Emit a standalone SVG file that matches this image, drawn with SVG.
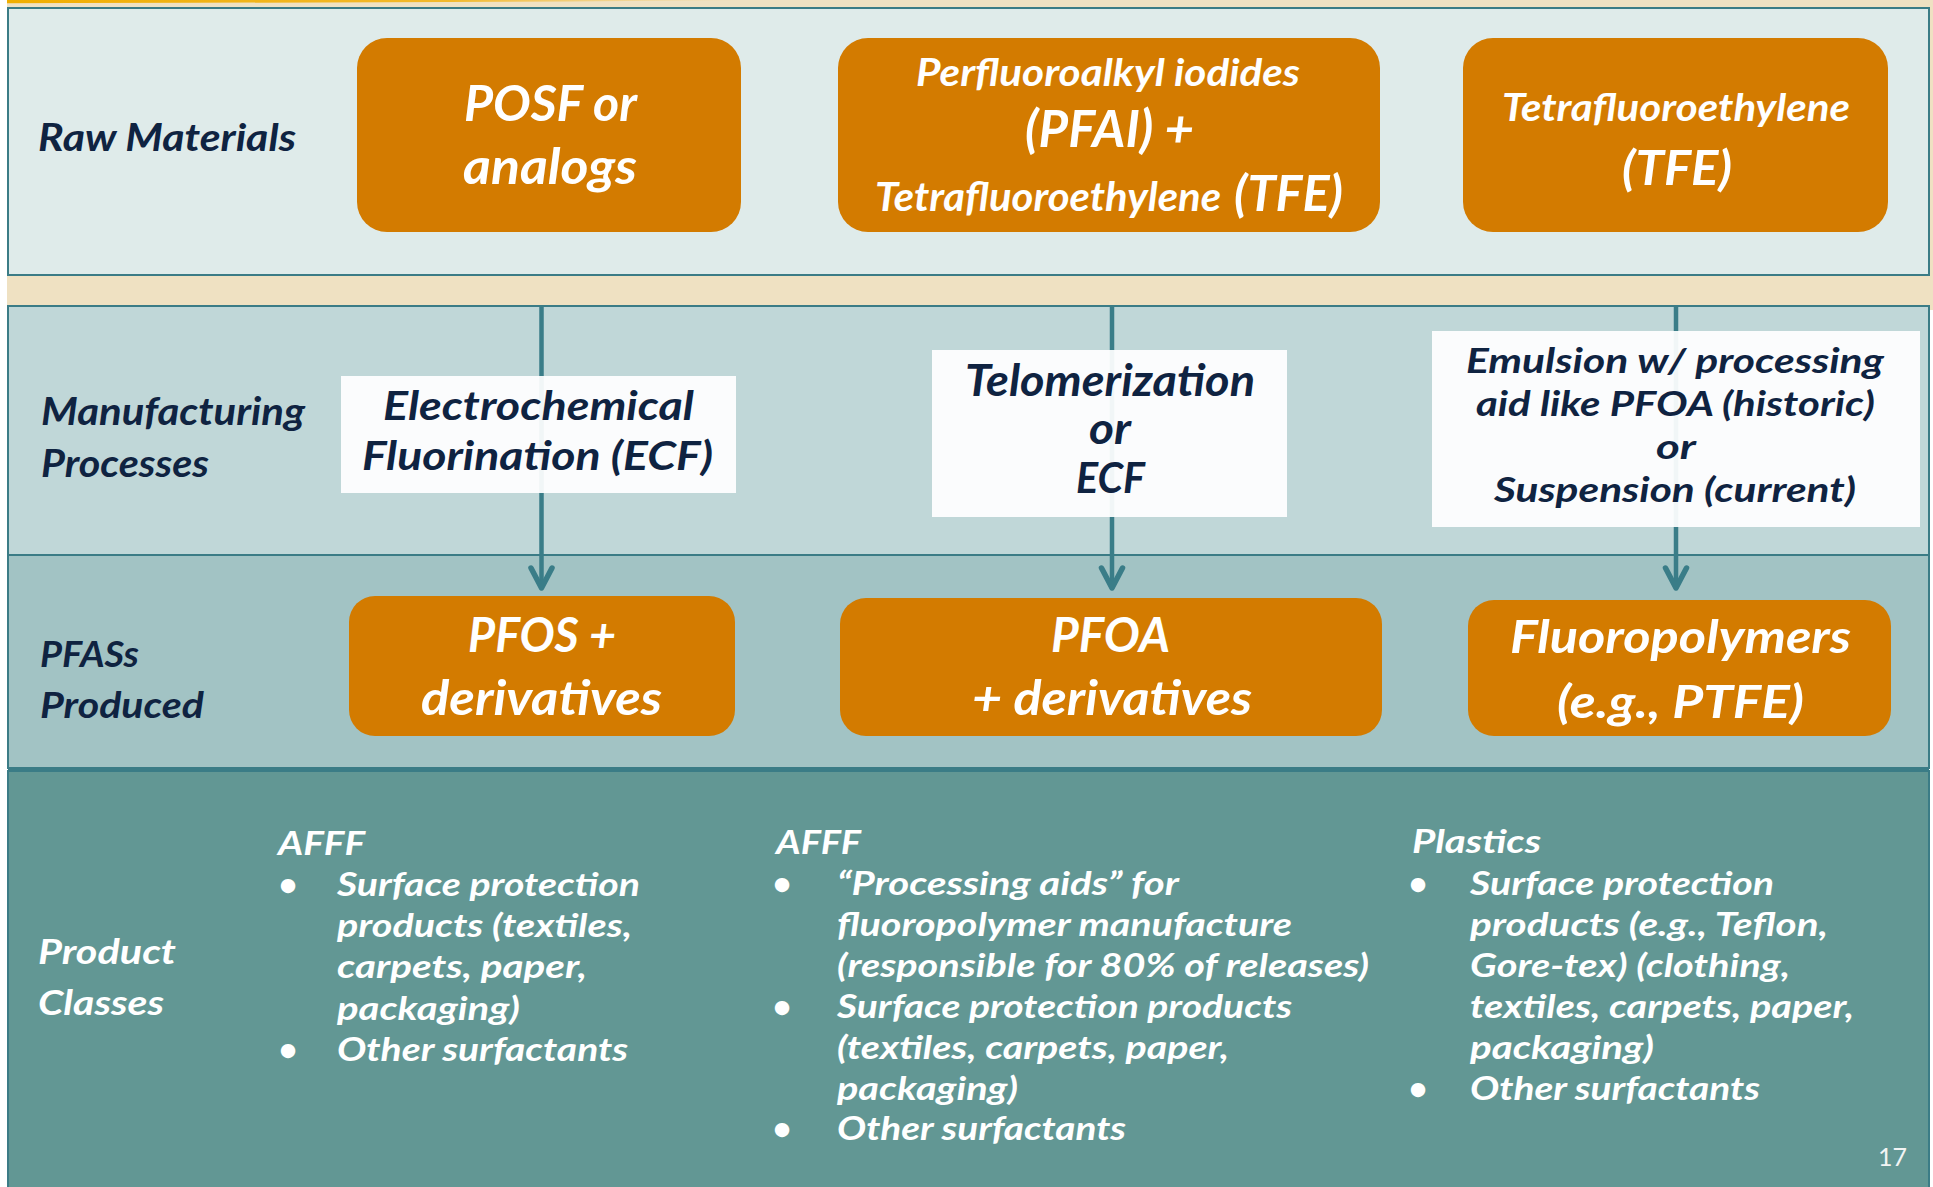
<svg xmlns="http://www.w3.org/2000/svg" width="1933" height="1187" viewBox="0 0 1933 1187">
  <defs>
    <style>
      text { font-family: Lato, "Open Sans", "Liberation Sans", sans-serif; font-style: italic; font-weight: bold; }
      .navy { fill: #0F2341; }
      .white { fill: #FFFFFF; }
      .band { stroke: #3B7C86; stroke-width: 2; }
      .orange { fill: #D37B00; }
      .proc { fill: #FFFFFF; fill-opacity: 0.93; }
      .conn { stroke: #3A7D88; stroke-width: 4.5; fill: none; }
      .pagenum { font-style: normal; font-weight: normal; fill: #F2F4F4; }
    </style>
    <linearGradient id="goldline" x1="0" y1="0" x2="1" y2="0">
      <stop offset="0" stop-color="#F0AE00"/>
      <stop offset="0.6" stop-color="#F2B41A" stop-opacity="0.9"/>
      <stop offset="1" stop-color="#F5C860" stop-opacity="0"/>
    </linearGradient>
    <marker id="chev" markerUnits="userSpaceOnUse" markerWidth="30" markerHeight="30" refX="0" refY="0" orient="auto" overflow="visible">
      <path d="M-20,-10.5 L0,0 L-20,10.5" fill="none" stroke="#3A7D88" stroke-width="5.5" stroke-linecap="round" stroke-linejoin="round"/>
    </marker>
  </defs>

  <!-- page background -->
  <rect x="0" y="0" width="1933" height="1187" fill="#FFFFFF"/>
  <rect x="7" y="0" width="1926" height="310" fill="#EFE1C2"/>
  <path d="M7,0 L745,0 L745,0.6 Q400,2.5 7,3.2 Z" fill="url(#goldline)"/>

  <!-- row bands -->
  <g id="bands">
    <rect class="band" x="8" y="8" width="1921" height="267" fill="#DFEBEA"/>
    <rect class="band" x="8" y="306" width="1921" height="249" fill="#C0D7D8"/>
    <rect class="band" x="8" y="555" width="1921" height="213" fill="#A2C3C4"/>
    <rect class="band" x="8" y="771" width="1921" height="430" fill="#629794"/>
    <line x1="8" y1="769.5" x2="1929" y2="769.5" stroke="#3B7C86" stroke-width="1.5"/>
  </g>

  <!-- row headings -->
  <g id="label-raw">
    <text class="navy" x="38" y="151" font-size="38" textLength="258" lengthAdjust="spacingAndGlyphs">Raw Materials</text>
  </g>
  <g id="label-manufacturing">
    <text class="navy" x="41" y="425" font-size="39" textLength="264" lengthAdjust="spacingAndGlyphs">Manufacturing</text>
    <text class="navy" x="41" y="477" font-size="39" textLength="168" lengthAdjust="spacingAndGlyphs">Processes</text>
  </g>
  <g id="label-produced">
    <text class="navy" x="40" y="667" font-size="37" textLength="99" lengthAdjust="spacingAndGlyphs">PFASs</text>
    <text class="navy" x="40" y="718" font-size="37" textLength="164" lengthAdjust="spacingAndGlyphs">Produced</text>
  </g>
  <g id="label-products">
    <text class="white" x="38" y="964" font-size="34" textLength="138" lengthAdjust="spacingAndGlyphs">Product</text>
    <text class="white" x="38" y="1015" font-size="34" textLength="126" lengthAdjust="spacingAndGlyphs">Classes</text>
  </g>

  <!-- connectors: raw material through process down to product -->
  <g id="connectors">
    <line class="conn" x1="541.5" y1="307" x2="541.5" y2="588" marker-end="url(#chev)"/>
    <line class="conn" x1="1112" y1="307" x2="1112" y2="588" marker-end="url(#chev)"/>
    <line class="conn" x1="1676" y1="307" x2="1676" y2="588" marker-end="url(#chev)"/>
  </g>

  <!-- raw materials -->
  <g id="raw-posf">
    <rect class="orange" x="357" y="38" width="384" height="194" rx="30"/>
    <text class="white" x="464" y="121" font-size="49" textLength="173" lengthAdjust="spacingAndGlyphs">POSF or</text>
    <text class="white" x="463" y="184" font-size="49" textLength="174" lengthAdjust="spacingAndGlyphs">analogs</text>
  </g>
  <g id="raw-pfai">
    <rect class="orange" x="838" y="38" width="542" height="194" rx="30"/>
    <text class="white" x="916" y="86" font-size="38" textLength="384" lengthAdjust="spacingAndGlyphs">Perfluoroalkyl iodides</text>
    <text class="white" x="1025" y="147" font-size="51" textLength="169" lengthAdjust="spacingAndGlyphs">(PFAI) +</text>
    <text class="white" y="211"><tspan x="875" font-size="41" textLength="346" lengthAdjust="spacingAndGlyphs">Tetrafluoroethylene</tspan><tspan x="1234" font-size="49" textLength="109" lengthAdjust="spacingAndGlyphs">(TFE)</tspan></text>
  </g>
  <g id="raw-tfe">
    <rect class="orange" x="1463" y="38" width="425" height="194" rx="30"/>
    <text class="white" x="1502" y="121" font-size="38" textLength="348" lengthAdjust="spacingAndGlyphs">Tetrafluoroethylene</text>
    <text class="white" x="1622" y="185" font-size="48" textLength="110" lengthAdjust="spacingAndGlyphs">(TFE)</text>
  </g>

  <!-- manufacturing processes -->
  <g id="proc-ecf">
    <rect class="proc" x="341" y="376" width="395" height="117"/>
    <text class="navy" x="383" y="420" font-size="41" textLength="311" lengthAdjust="spacingAndGlyphs">Electrochemical</text>
    <text class="navy" x="362" y="470" font-size="41" textLength="351" lengthAdjust="spacingAndGlyphs">Fluorination (ECF)</text>
  </g>
  <g id="proc-telomer">
    <rect class="proc" x="932" y="350" width="355" height="167"/>
    <text class="navy" x="965" y="396" font-size="43" textLength="290" lengthAdjust="spacingAndGlyphs">Telomerization</text>
    <text class="navy" x="1089" y="444" font-size="43" textLength="42" lengthAdjust="spacingAndGlyphs">or</text>
    <text class="navy" x="1076" y="493" font-size="42" textLength="69" lengthAdjust="spacingAndGlyphs">ECF</text>
  </g>
  <g id="proc-emulsion">
    <rect class="proc" x="1432" y="331" width="488" height="196"/>
    <text class="navy" x="1466" y="373" font-size="35" textLength="418" lengthAdjust="spacingAndGlyphs">Emulsion w/ processing</text>
    <text class="navy" x="1476" y="416" font-size="35" textLength="399" lengthAdjust="spacingAndGlyphs">aid like PFOA (historic)</text>
    <text class="navy" x="1656" y="459" font-size="35" textLength="40" lengthAdjust="spacingAndGlyphs">or</text>
    <text class="navy" x="1494" y="502" font-size="35" textLength="362" lengthAdjust="spacingAndGlyphs">Suspension (current)</text>
  </g>

  <!-- PFASs produced -->
  <g id="out-pfos">
    <rect class="orange" x="349" y="596" width="386" height="140" rx="26"/>
    <text class="white" x="468" y="652" font-size="47" textLength="148" lengthAdjust="spacingAndGlyphs">PFOS +</text>
    <text class="white" x="421" y="715" font-size="47" textLength="241" lengthAdjust="spacingAndGlyphs">derivatives</text>
  </g>
  <g id="out-pfoa">
    <rect class="orange" x="840" y="598" width="542" height="138" rx="26"/>
    <text class="white" x="1051" y="652" font-size="47" textLength="119" lengthAdjust="spacingAndGlyphs">PFOA</text>
    <text class="white" x="972" y="715" font-size="47" textLength="280" lengthAdjust="spacingAndGlyphs">+ derivatives</text>
  </g>
  <g id="out-fluoropolymers">
    <rect class="orange" x="1468" y="600" width="423" height="136" rx="26"/>
    <text class="white" x="1510" y="653" font-size="46" textLength="341" lengthAdjust="spacingAndGlyphs">Fluoropolymers</text>
    <text class="white" x="1557" y="718" font-size="46" textLength="247" lengthAdjust="spacingAndGlyphs">(e.g., PTFE)</text>
  </g>

  <!-- product classes -->
  <g id="products-pfos" class="white" font-size="33">
    <text class="white" x="278" y="855" textLength="87" lengthAdjust="spacingAndGlyphs">AFFF</text>
    <text class="white" x="288" y="896" text-anchor="middle">•</text>
    <text class="white" x="337" y="896" textLength="303" lengthAdjust="spacingAndGlyphs">Surface protection</text>
    <text class="white" x="337" y="937" textLength="295" lengthAdjust="spacingAndGlyphs">products (textiles,</text>
    <text class="white" x="337" y="978" textLength="250" lengthAdjust="spacingAndGlyphs">carpets, paper,</text>
    <text class="white" x="337" y="1020" textLength="183" lengthAdjust="spacingAndGlyphs">packaging)</text>
    <text class="white" x="288" y="1061" text-anchor="middle">•</text>
    <text class="white" x="337" y="1061" textLength="291" lengthAdjust="spacingAndGlyphs">Other surfactants</text>
  </g>
  <g id="products-pfoa" class="white" font-size="33">
    <text class="white" x="776" y="854" textLength="85" lengthAdjust="spacingAndGlyphs">AFFF</text>
    <text class="white" x="782" y="895" text-anchor="middle">•</text>
    <text class="white" x="837" y="895" textLength="342" lengthAdjust="spacingAndGlyphs">“Processing aids” for</text>
    <text class="white" x="837" y="936" textLength="455" lengthAdjust="spacingAndGlyphs">fluoropolymer manufacture</text>
    <text class="white" x="837" y="977" textLength="532" lengthAdjust="spacingAndGlyphs">(responsible for 80% of releases)</text>
    <text class="white" x="782" y="1018" text-anchor="middle">•</text>
    <text class="white" x="837" y="1018" textLength="455" lengthAdjust="spacingAndGlyphs">Surface protection products</text>
    <text class="white" x="837" y="1059" textLength="392" lengthAdjust="spacingAndGlyphs">(textiles, carpets, paper,</text>
    <text class="white" x="837" y="1100" textLength="181" lengthAdjust="spacingAndGlyphs">packaging)</text>
    <text class="white" x="782" y="1140" text-anchor="middle">•</text>
    <text class="white" x="837" y="1140" textLength="289" lengthAdjust="spacingAndGlyphs">Other surfactants</text>
  </g>
  <g id="products-fluoropolymers" class="white" font-size="33">
    <text class="white" x="1412" y="853" textLength="129" lengthAdjust="spacingAndGlyphs">Plastics</text>
    <text class="white" x="1418" y="895" text-anchor="middle">•</text>
    <text class="white" x="1470" y="895" textLength="304" lengthAdjust="spacingAndGlyphs">Surface protection</text>
    <text class="white" x="1470" y="936" textLength="358" lengthAdjust="spacingAndGlyphs">products (e.g., Teflon,</text>
    <text class="white" x="1470" y="977" textLength="320" lengthAdjust="spacingAndGlyphs">Gore-tex) (clothing,</text>
    <text class="white" x="1470" y="1018" textLength="384" lengthAdjust="spacingAndGlyphs">textiles, carpets, paper,</text>
    <text class="white" x="1470" y="1059" textLength="184" lengthAdjust="spacingAndGlyphs">packaging)</text>
    <text class="white" x="1418" y="1100" text-anchor="middle">•</text>
    <text class="white" x="1470" y="1100" textLength="290" lengthAdjust="spacingAndGlyphs">Other surfactants</text>
  </g>

  <!-- slide number -->
  <text class="pagenum" x="1878" y="1166" font-size="25" textLength="29" lengthAdjust="spacingAndGlyphs">17</text>
</svg>
